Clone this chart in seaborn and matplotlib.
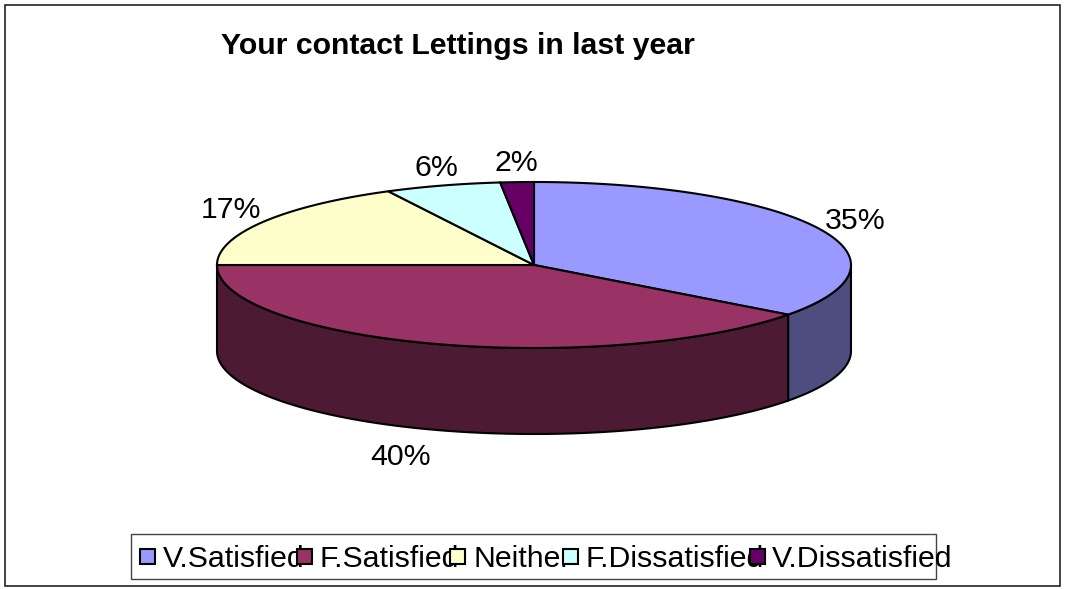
import numpy as np
import seaborn as sns
from matplotlib import pyplot as plt
from matplotlib.patches import Rectangle

# Values
categories = ['V.Satisfied', 'F.Satisfied', 'Neither', 'F.Dissatisfied', 'V.Dissatisfied']
shares = [35.2, 39.8, 17.4, 5.9, 1.7]
chart_title = 'Your contact Lettings in last year'

# Layout, in pixels of the 1065x589 picture
cx, cy, rx, ry, depth = 534, 265, 317, 83, 86
label_xy = [(855, 221), (401, 457), (231, 210), (436, 168), (516, 163)]
legend_box = (131, 534, 805, 45)
legend_marker_x = [140, 297, 450, 563, 750]
legend_text_x = [163, 319, 473, 586, 772]

sns.set_theme(style='white')
plt.rcParams['font.family'] = ['Liberation Sans', 'DejaVu Sans']
palette = sns.color_palette(['#9999FF', '#993366', '#FFFFCC', '#CCFFFF', '#660066'])
dark = [tuple(0.5 * c for c in col) for col in palette]


def rim(a0, a1, dy=0):
    # points on the ellipse, angle in degrees clockwise from 12 o'clock
    t = np.radians(np.linspace(a0, a1, max(int(abs(a1 - a0) * 2), 2)))
    return cx + rx * np.sin(t), cy + dy - ry * np.cos(t)


fig = plt.figure(figsize=(10.65, 5.89), dpi=100)
ax = fig.add_axes([0, 0, 1, 1])
ax.set_xlim(0, 1065)
ax.set_ylim(589, 0)
ax.axis('off')

ax.add_patch(Rectangle((5, 5), 1055, 581, fc='white', ec='#222222', lw=1.2))

edges = np.concatenate([[0], np.cumsum(shares)]) * 3.6

# Side wall, only the part facing the viewer
for i in range(len(shares)):
    a0, a1 = max(edges[i], 90), min(edges[i + 1], 270)
    if a1 <= a0:
        continue
    x_top, y_top = rim(a0, a1)
    x_bot, y_bot = rim(a1, a0, depth)
    ax.fill(np.r_[x_top, x_bot], np.r_[y_top, y_bot], fc=dark[i], ec='black', lw=1.5, zorder=2)

# Top of the pie
for i in range(len(shares)):
    x_top, y_top = rim(edges[i], edges[i + 1])
    ax.fill(np.r_[cx, x_top], np.r_[cy, y_top], fc=palette[i], ec='black', lw=1.5, zorder=3)

for share, (x, y) in zip(shares, label_xy):
    ax.text(x, y, f'{share:.0f}%', fontsize=21.8, color='black', ha='center', va='center', zorder=5)

ax.text(221, 46, chart_title, fontsize=21.8, fontweight='bold', color='black', ha='left', va='center')

# Legend: entries overlap the same way as in the original
ax.add_patch(Rectangle(legend_box[:2], legend_box[2], legend_box[3], fc='white', ec='#444444', lw=1.0, zorder=4))
for i, name in enumerate(categories):
    ax.text(legend_text_x[i], 559, name, fontsize=21.8, color='black', ha='left', va='center', zorder=5)
    ax.add_patch(Rectangle((legend_marker_x[i], 549), 15, 15, fc=palette[i], ec='black', lw=1.5, zorder=6))

plt.savefig('out.png', dpi=100)
